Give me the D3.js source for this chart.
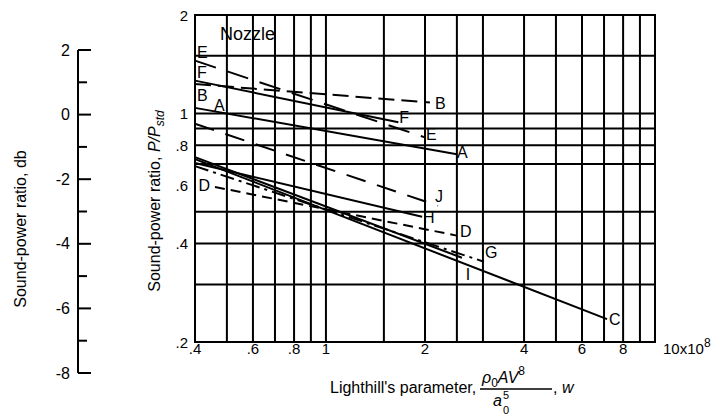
<!DOCTYPE html>
<html>
<head>
<meta charset="utf-8">
<script src="https://cdn.jsdelivr.net/npm/d3@7"></script>
<style>
  body { margin: 0; background: #fff; }
  svg { display: block; }
  text { font-family: "Liberation Sans", Arial, sans-serif; fill: #000; }
</style>
</head>
<body>
<svg id="chart" width="711" height="419"></svg>
<script>
// Sound-power ratio against Lighthill's parameter, nozzle configurations A-J
const seriesNames  = ["A", "B", "C", "D", "E", "F", "G", "H", "I", "J"];
const seriesStartX = [0.4, 0.4, 0.4, 0.46, 0.4, 0.4, 0.4, 0.4, 0.4, 0.4];
const seriesEndX   = [2.5, 2.07, 7.15, 2.5, 2.0, 1.66, 3.02, 1.96, 2.59, 2.19];
const seriesStartY = [1.04, 1.23, 0.725, 0.596, 1.45, 1.26, 0.69, 0.705, 0.735, 0.93];
const seriesEndY   = [0.75, 1.08, 0.235, 0.423, 0.845, 0.94, 0.352, 0.483, 0.362, 0.522];

const xGridValues = [0.4, 0.5, 0.6, 0.7, 0.8, 0.9, 1, 1.5, 2, 2.5, 3, 4, 5, 6, 7, 8, 9, 10];
const yGridValues = [0.2, 0.3, 0.4, 0.5, 0.7, 0.8, 0.9, 1, 1.5, 2];
const xTickValues = [0.4, 0.6, 0.8, 1, 2, 4, 6, 8];
const xTickLabels = [".4", ".6", ".8", "1", "2", "4", "6", "8"];
const yTickValues = [0.2, 0.4, 0.6, 0.8, 1, 2];
const yTickLabels = [".2", ".4", ".6", ".8", "1", "2"];
const dbTickValues = [-8, -7, -6, -5, -4, -3, -2, -1, 0, 1, 2];

const svg = d3.select("#chart");
const x = d3.scaleLog().domain([0.4, 10]).range([195, 655]);
const y = d3.scaleLog().domain([0.2, 2]).range([342, 15]);
const db = d3.scaleLinear().domain([-8, 2]).range([373, 50]);

// line styles per nozzle
const dashStyle = { A: null, B: "16,7", C: null, D: "10,6", E: "22,12", F: null,
                    G: "14,5,3,5", H: null, I: null, J: "20,12" };
// label placement near line ends: [dx, dy, anchor]
const endLabel = { A: [0, -2], B: [5, 1], C: [2, 0], D: [3, -4], E: [1, -3], F: [1, -5],
                   G: [1, -9], H: [1, 1], I: [6, 17, "middle"], J: [-3, -9] };
const startLabel = { E: [2, -8], F: [2, -8], B: [2, 11], A: [19, -2], D: [-5, -1, "end"] };

// grid
const grid = svg.append("g").attr("stroke", "#000").attr("stroke-width", 2);
grid.selectAll(".vx").data(xGridValues).join("line")
  .attr("x1", d => x(d)).attr("x2", d => x(d))
  .attr("y1", y(0.2)).attr("y2", y(2));
grid.selectAll(".hy").data(yGridValues).join("line")
  .attr("x1", x(0.4)).attr("x2", x(10))
  .attr("y1", d => y(d)).attr("y2", d => y(d));

// series lines
const lineGen = d3.line().x(d => x(d[0])).y(d => y(d[1]));
const series = seriesNames.map((n, i) => ({
  name: n,
  pts: [[seriesStartX[i], seriesStartY[i]], [seriesEndX[i], seriesEndY[i]]]
}));
svg.append("g").selectAll("path").data(series).join("path")
  .attr("d", d => lineGen(d.pts))
  .attr("fill", "none").attr("stroke", "#000").attr("stroke-width", 2)
  .attr("stroke-dasharray", d => dashStyle[d.name]);

// series labels
const lab = svg.append("g").attr("font-size", 16);
series.forEach(s => {
  const e = endLabel[s.name];
  const p = s.pts[1];
  lab.append("text").attr("x", x(p[0]) + e[0]).attr("y", y(p[1]) + e[1])
    .attr("dominant-baseline", "central").attr("text-anchor", e[2] || "start").text(s.name);
  const b = startLabel[s.name];
  if (b) {
    const q = s.pts[0];
    lab.append("text").attr("x", x(q[0]) + b[0]).attr("y", y(q[1]) + b[1])
      .attr("dominant-baseline", "central").attr("text-anchor", b[2] || "start").text(s.name);
  }
});

svg.append("text").attr("x", 220).attr("y", 40).attr("font-size", 18)
  .attr("font-family", "DejaVu Sans").text("Nozzle");

// x tick labels
const xl = svg.append("g").attr("font-size", 15).attr("text-anchor", "middle");
xTickValues.forEach((v, i) => {
  xl.append("text").attr("x", x(v)).attr("y", 354).text(xTickLabels[i]);
});
const tenLab = xl.append("text").attr("x", x(10) + 8).attr("y", 354).attr("text-anchor", "start");
tenLab.append("tspan").text("10x10");
tenLab.append("tspan").attr("dy", -7).attr("font-size", 12).text("8");

// y tick labels
const yl = svg.append("g").attr("font-size", 15).attr("text-anchor", "end");
yTickValues.forEach((v, i) => {
  yl.append("text").attr("x", 188).attr("y", y(v)).attr("dominant-baseline", "central")
    .text(yTickLabels[i]);
});

// x axis title with Lighthill fraction
const xt = svg.append("g").attr("font-size", 16);
xt.append("text").attr("x", 330).attr("y", 393).text("Lighthill's parameter,");
const num = xt.append("text").attr("x", 482).attr("y", 383).attr("font-style", "italic");
num.append("tspan").text("ρ");
num.append("tspan").attr("dy", 4).attr("font-size", 12).attr("font-style", "normal").text("0");
num.append("tspan").attr("dy", -4).text("AV");
num.append("tspan").attr("dy", -8).attr("font-size", 12).attr("font-style", "normal").text("8");
xt.append("line").attr("x1", 480).attr("x2", 552).attr("y1", 389).attr("y2", 389)
  .attr("stroke", "#000").attr("stroke-width", 1.5);
xt.append("text").attr("x", 493).attr("y", 406).attr("font-style", "italic").text("a");
xt.append("text").attr("x", 503).attr("y", 414).attr("font-size", 11).text("0");
xt.append("text").attr("x", 503).attr("y", 399).attr("font-size", 11).text("5");
const wl = xt.append("text").attr("x", 553).attr("y", 393);
wl.append("tspan").text(", ");
wl.append("tspan").attr("font-style", "italic").text("w");

// main y axis title
const yt = svg.append("text").attr("transform", "translate(160,201) rotate(-90)")
  .attr("text-anchor", "middle").attr("font-size", 16);
yt.append("tspan").text("Sound-power ratio, ");
yt.append("tspan").attr("font-style", "italic").text("P/P");
yt.append("tspan").attr("font-style", "italic").attr("font-size", 12).attr("dy", 4).text("std");

// decibel axis
const dbg = svg.append("g");
dbg.append("line").attr("x1", 78).attr("x2", 78).attr("y1", db(-8)).attr("y2", db(2))
  .attr("stroke", "#000").attr("stroke-width", 2);
dbg.selectAll(".t").data(dbTickValues).join("line")
  .attr("x1", 78).attr("x2", d => d % 2 === 0 ? 91 : 87)
  .attr("y1", d => db(d)).attr("y2", d => db(d))
  .attr("stroke", "#000").attr("stroke-width", 2);
dbg.selectAll("text").data(dbTickValues.filter(d => d % 2 === 0)).join("text")
  .attr("x", 70).attr("y", d => db(d)).attr("text-anchor", "end")
  .attr("dominant-baseline", "central").attr("font-size", 16)
  .text(d => d < 0 ? "-" + Math.abs(d) : String(d));
svg.append("text").attr("transform", "translate(26,229) rotate(-90)")
  .attr("text-anchor", "middle").attr("font-size", 16).text("Sound-power ratio, db");

// frame
svg.append("rect").attr("x", x(0.4)).attr("y", y(2))
  .attr("width", x(10) - x(0.4)).attr("height", y(0.2) - y(2))
  .attr("fill", "none").attr("stroke", "#000").attr("stroke-width", 2);
</script>
</body>
</html>
